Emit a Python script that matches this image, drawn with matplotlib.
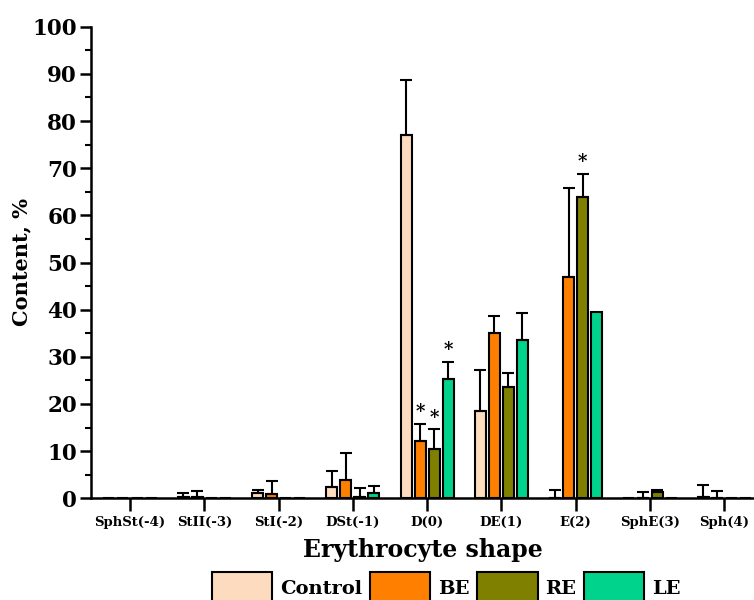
import numpy as np
import matplotlib as mpl
mpl.use('Agg')
from matplotlib import pyplot as plt
from matplotlib.patches import Patch

# - Data
categories = ["SphSt(-4)", "StII(-3)", "StI(-2)", "DSt(-1)", "D(0)", "DE(1)", "E(2)", "SphE(3)", "Sph(4)"]
series_names = ["Control", "BE", "RE", "LE"]
control = [0, 0.2, 1.1, 2.3, 77.0, 18.5, 0, 0, 0.3]
control_err = [0, 1.0, 0.7, 3.4, 11.7, 8.6, 1.8, 0, 2.5]
be = [0, 0.2, 0.9, 3.9, 12.2, 35.0, 46.9, 0, 0]
be_err = [0, 1.3, 2.8, 5.8, 3.5, 3.7, 18.8, 1.4, 1.5]
re_vals = [0, 0, 0, 0.2, 10.5, 23.6, 63.8, 1.4, 0]
re_err = [0, 0, 0, 2.0, 4.1, 2.9, 4.9, 0.3, 0]
le = [0, 0, 0, 1.2, 25.4, 33.6, 39.5, 0, 0]
le_err = [0, 0, 0, 1.5, 3.5, 5.6, 0, 0, 0]
# - (category index, series index) marked with an asterisk
stars = [(4, 1), (4, 2), (4, 3), (6, 2)]

values = [control, be, re_vals, le]
errors = [control_err, be_err, re_err, le_err]
colors = ["#FDDBBE", "#FF8000", "#808000", "#00D38C"]

font = "DejaVu Serif"
mpl.rcParams['font.family'] = font
mpl.rcParams['font.weight'] = 'bold'

fig = plt.figure(figsize=(7.54, 6.0), dpi=100)
ax = fig.add_axes([0.1207, 0.1695, 0.8793, 0.786])

x = np.arange(len(categories))
width = 0.148
step = 0.189
offsets = (np.arange(4) - 1.5) * step

for i in range(4):
	xpos = x + offsets[i]
	ax.bar(xpos, values[i], width=width, color=colors[i], edgecolor='black', linewidth=1.5, zorder=2)
	# - only draw upper error bars that exist
	v = np.array(values[i])
	e = np.array(errors[i])
	m = e > 0
	ax.errorbar(xpos[m], v[m], yerr=[np.zeros(m.sum()), e[m]], fmt='none', ecolor='black',
				elinewidth=1.5, capsize=4.5, capthick=1.5, zorder=3)

for (c, s) in stars:
	top = values[s][c] + errors[s][c]
	ax.text(x[c] + offsets[s], top + 0.6, "*", ha='center', va='bottom', fontsize=13, color='black')

# - Axes styling
ax.set_xlim(-0.525, 8.40)
ax.set_ylim(0, 100)
ax.spines['top'].set_visible(False)
ax.spines['right'].set_visible(False)
ax.spines['left'].set_linewidth(1.8)
ax.spines['bottom'].set_linewidth(1.8)

ax.set_yticks(np.arange(0, 101, 10))
ax.set_yticks(np.arange(5, 100, 10), minor=True)
ax.tick_params(axis='y', which='major', direction='out', length=8, width=1.8, labelsize=15.5, pad=2)
ax.tick_params(axis='y', which='minor', direction='out', length=4, width=1.5)
ax.set_xticks(x)
ax.set_xticklabels(categories)
ax.tick_params(axis='x', direction='out', length=9, width=1.8, labelsize=9.5, pad=4)

ax.set_ylabel("Content, %", fontsize=15, fontweight='bold', labelpad=1)
ax.set_xlabel("Erythrocyte shape", fontsize=17, fontweight='bold', labelpad=6)

# - Legend at the bottom (partly cut by figure edge as in the original)
handles = [Patch(facecolor=colors[i], edgecolor='black', linewidth=1.5) for i in range(4)]
fig.legend(handles, series_names, loc='upper center', bbox_to_anchor=(0.592, 0.046), ncol=4,
		   frameon=False, fontsize=14, handlelength=3.1, handleheight=2.0, columnspacing=0.4,
		   handletextpad=0.4, borderaxespad=0, borderpad=0)

plt.savefig("out.png", dpi=100)
